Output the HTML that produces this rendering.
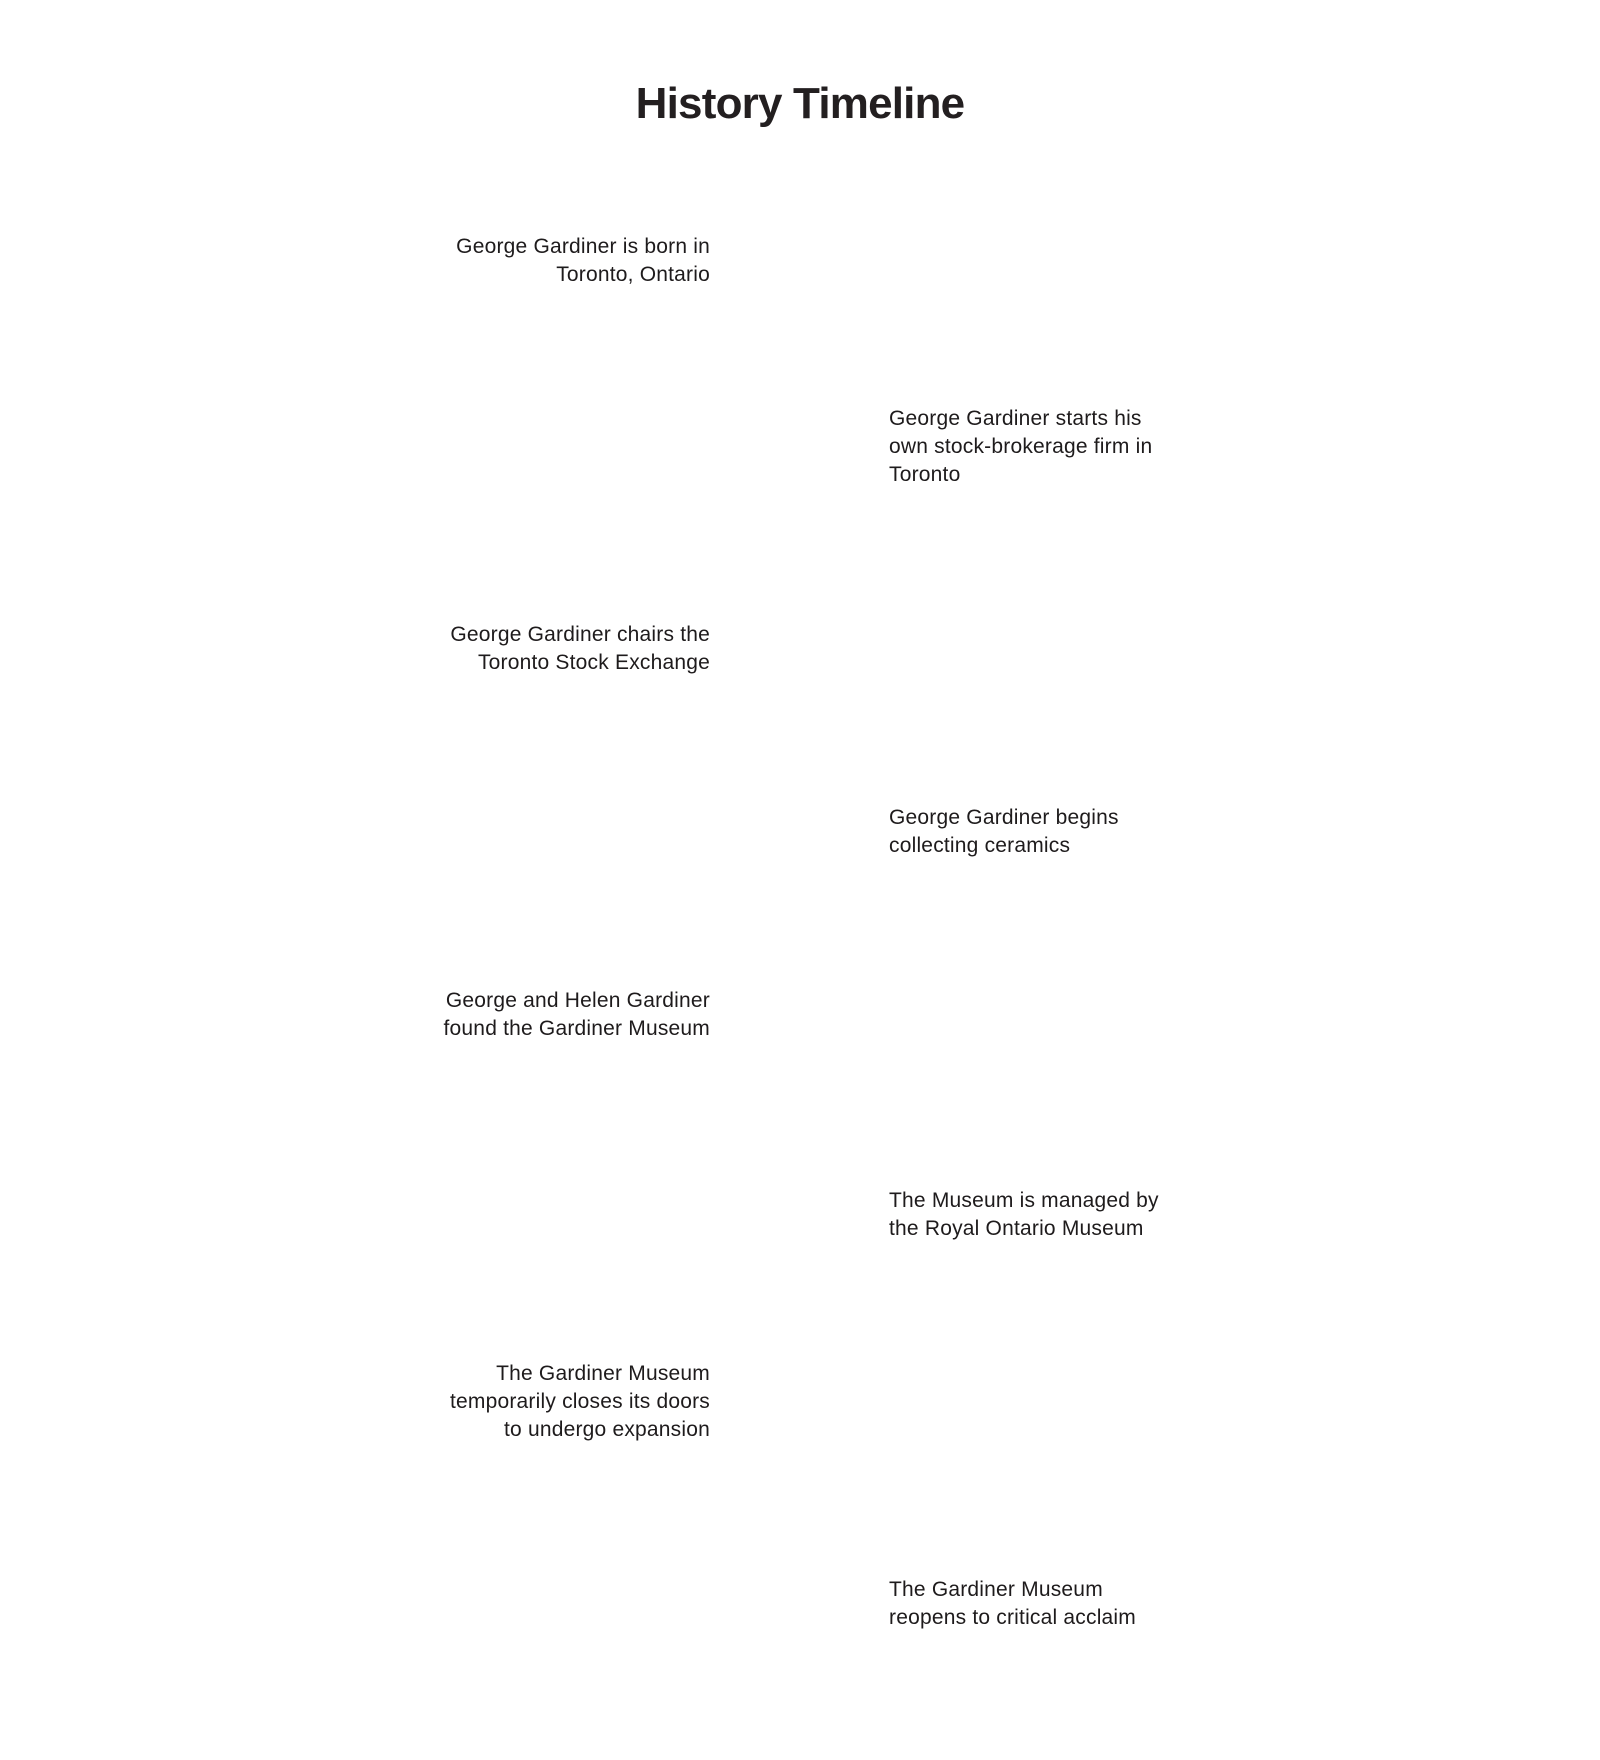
<!DOCTYPE html>
<html><head><meta charset="utf-8"><style>
body{margin:0;width:1600px;height:1760px;background:#fff;position:relative;font-family:"Liberation Sans",sans-serif;color:#231f20;}
h1{position:absolute;top:76px;left:0;width:1600px;text-align:center;margin:0;font-size:44px;font-weight:bold;letter-spacing:-0.8px;line-height:56px;}
.t{position:absolute;font-size:21px;line-height:28px;width:340px;letter-spacing:0.2px;color:#1e1b1c;font-weight:500;}
.l{right:890px;text-align:right;}
.r{left:889px;text-align:left;}
</style></head><body>
<h1>History Timeline</h1>
<div class="t l" style="top:233px">George Gardiner is born in<br>Toronto, Ontario</div>
<div class="t r" style="top:405px">George Gardiner starts his<br>own stock-brokerage firm in<br>Toronto</div>
<div class="t l" style="top:621px">George Gardiner chairs the<br>Toronto Stock Exchange</div>
<div class="t r" style="top:804px">George Gardiner begins<br>collecting ceramics</div>
<div class="t l" style="top:987px">George and Helen Gardiner<br>found the Gardiner Museum</div>
<div class="t r" style="top:1187px">The Museum is managed by<br>the Royal Ontario Museum</div>
<div class="t l" style="top:1360px">The Gardiner Museum<br>temporarily closes its doors<br>to undergo expansion</div>
<div class="t r" style="top:1576px">The Gardiner Museum<br>reopens to critical acclaim</div>
</body></html>
